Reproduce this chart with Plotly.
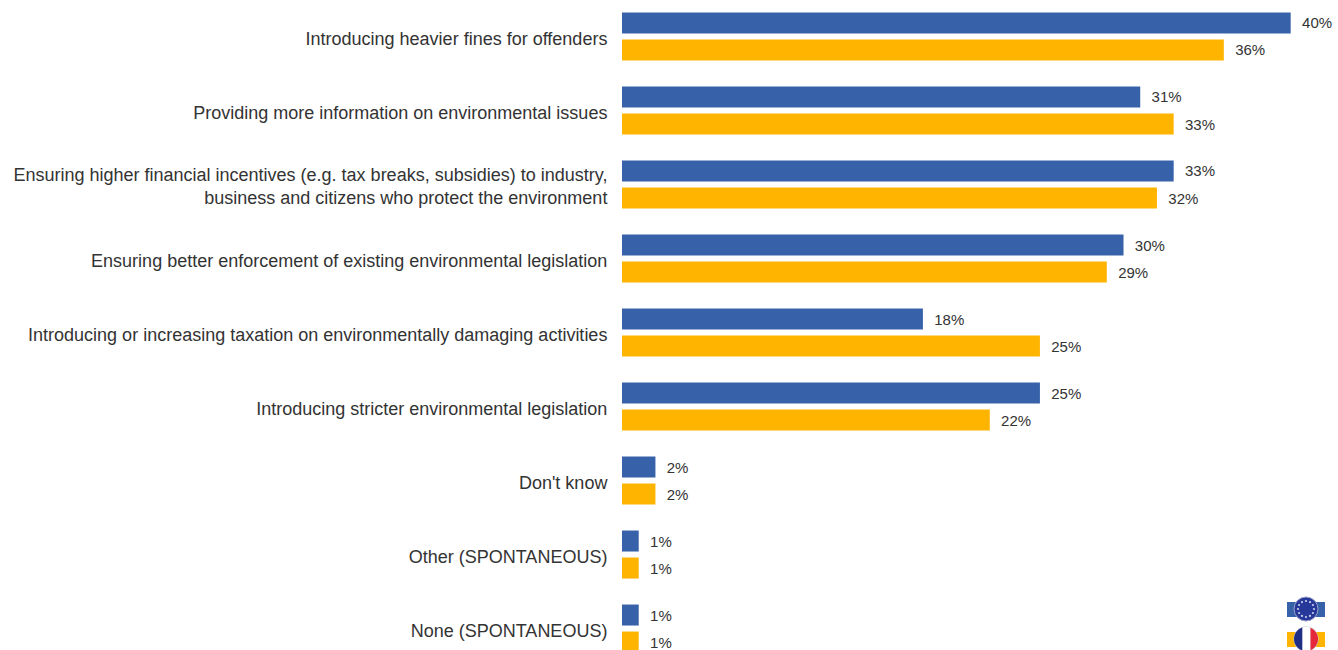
import numpy as np
import plotly.graph_objects as go

categories = [
    "Introducing heavier fines for offenders",
    "Providing more information on environmental issues",
    "Ensuring higher financial incentives (e.g. tax breaks, subsidies) to industry,<br>business and citizens who protect the environment",
    "Ensuring better enforcement of existing environmental legislation",
    "Introducing or increasing taxation on environmentally damaging activities",
    "Introducing stricter environmental legislation",
    "Don't know",
    "Other (SPONTANEOUS)",
    "None (SPONTANEOUS)",
]
eu_values = [40, 31, 33, 30, 18, 25, 2, 1, 1]
fr_values = [36, 33, 32, 29, 25, 22, 2, 1, 1]

W, H = 1338, 650
LEFT = 622
BLUE, GOLD = "#3762A9", "#FFB400"
TEXT = "#333333"
FONT = "Liberation Sans, Arial, sans-serif"

fig = go.Figure()
for name, vals, col in [("EU27", eu_values, BLUE), ("France", fr_values, GOLD)]:
    fig.add_trace(go.Bar(
        y=categories, x=vals, name=name, orientation="h",
        marker=dict(color=col, line=dict(width=0)),
        text=[f"\u00a0\u00a0{v}%" for v in vals], textposition="outside",
        cliponaxis=False, constraintext="none",
        textfont=dict(family=FONT, size=15, color=TEXT),
    ))


def px(x):
    return (x - LEFT) / (W - LEFT)


def py(y):
    return 1 - y / H


def rect(x0, y0, x1, y1, color):
    return dict(type="rect", xref="paper", yref="paper", x0=px(x0), x1=px(x1),
                y0=py(y0), y1=py(y1), fillcolor=color, line_width=0, layer="above")


def circle(cx, cy, r, color, line=None):
    return dict(type="circle", xref="paper", yref="paper", x0=px(cx - r), x1=px(cx + r),
                y0=py(cy - r), y1=py(cy + r), fillcolor=color,
                line=dict(width=1 if line else 0, color=line or color), layer="above")


def disc_slice(cx, cy, r, xa, xb, color):
    # vertical band of a disc, as a closed polygon
    t = np.linspace(np.arccos(np.clip(xb / r, -1, 1)), np.arccos(np.clip(xa / r, -1, 1)), 16)
    xs = np.r_[r * np.cos(t), r * np.cos(t[::-1])]
    ys = np.r_[-r * np.sin(t), r * np.sin(t[::-1])]
    d = "M" + " L".join(f"{px(cx + a):.5f},{py(cy + b):.5f}" for a, b in zip(xs, ys)) + " Z"
    return dict(type="path", xref="paper", yref="paper", path=d, fillcolor=color,
                line_width=0, layer="above")


shapes = [rect(1287, 602, 1325, 617, BLUE), circle(1306, 609, 12, "#26389A", "#9AA0C8")]
for a in np.arange(12) * np.pi / 6:
    shapes.append(circle(1306 + 8 * np.cos(a), 609 + 8 * np.sin(a), 1.1, "#C9CDE8"))
shapes += [
    rect(1287, 632, 1325, 647, GOLD),
    circle(1306, 639, 12.5, "#C8C8D0"),
    disc_slice(1306, 639, 12, -12, -3.5, "#1F2F86"),
    disc_slice(1306, 639, 12, -3.5, 4.5, "#FFFFFF"),
    disc_slice(1306, 639, 12, 4.5, 12, "#E5293B"),
]

fig.update_layout(
    width=W, height=H, barmode="group", bargap=0.27, bargroupgap=0.222,
    margin=dict(l=LEFT, r=0, t=0, b=0, pad=0, autoexpand=False),
    paper_bgcolor="white", plot_bgcolor="white", showlegend=False, shapes=shapes,
    xaxis=dict(range=[0, 42.83], visible=False, fixedrange=True),
    yaxis=dict(range=[8.29, -0.493], showgrid=False, zeroline=False, showline=False,
               ticks="outside", ticklen=10, tickcolor="rgba(0,0,0,0)", automargin=False,
               ticklabelshift=-2,
               tickfont=dict(family=FONT, size=18, color=TEXT),
               fixedrange=True),
)
fig.write_html("out.html", config={"displayModeBar": False},
               post_script="document.body.style.margin='0';document.documentElement.style.overflow='hidden';")
